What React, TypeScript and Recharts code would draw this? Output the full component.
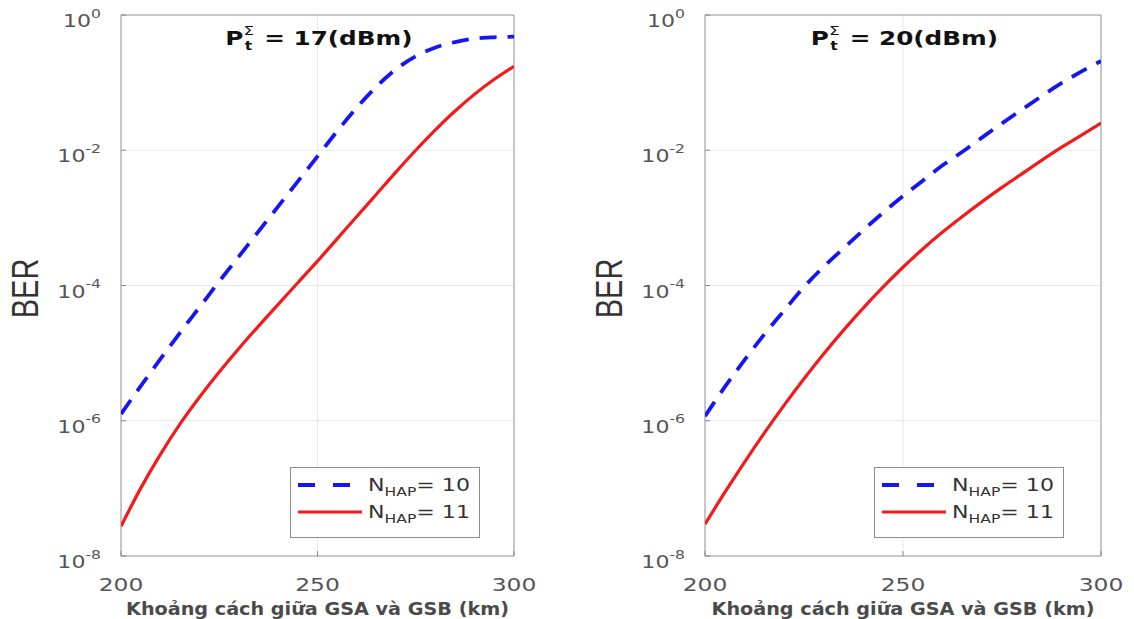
import React from 'react';
import { LineChart, Line, XAxis, YAxis, CartesianGrid, Legend, ReferenceArea } from 'recharts';

// distance between GSA and GSB (km)
const distanceKm = [200, 205, 210, 215, 220, 225, 230, 235, 240, 245, 250, 255, 260, 265, 270, 275, 280, 285, 290, 295, 300];

// BER, total transmit power 17 dBm
const berHap10P17 = [1.26e-6, 3.24e-6, 8.13e-6, 2.0e-5, 4.79e-5, 1.15e-4, 2.69e-4, 6.31e-4, 1.48e-3, 3.47e-3, 8.13e-3, 1.91e-2, 4.27e-2, 8.71e-2, 0.158, 0.245, 0.331, 0.398, 0.447, 0.468, 0.479];
const berHap11P17 = [2.75e-8, 1.0e-7, 3.16e-7, 8.9e-7, 2.24e-6, 5.25e-6, 1.17e-5, 2.51e-5, 5.25e-5, 1.1e-4, 2.29e-4, 4.9e-4, 1.05e-3, 2.24e-3, 4.79e-3, 1.0e-2, 2.0e-2, 3.8e-2, 6.76e-2, 0.112, 0.174];

// BER, total transmit power 20 dBm
const berHap10P20 = [1.17e-6, 3.16e-6, 7.94e-6, 1.9e-5, 4.27e-5, 9.5e-5, 1.9e-4, 3.55e-4, 6.6e-4, 1.2e-3, 2.1e-3, 3.55e-3, 6.0e-3, 9.5e-3, 1.55e-2, 2.5e-2, 3.98e-2, 6.3e-2, 9.8e-2, 0.145, 0.209];
const berHap11P20 = [2.95e-8, 8.7e-8, 2.45e-7, 6.6e-7, 1.7e-6, 4.17e-6, 9.8e-6, 2.19e-5, 4.68e-5, 9.55e-5, 1.86e-4, 3.47e-4, 6.17e-4, 1.05e-3, 1.74e-3, 2.82e-3, 4.47e-3, 7.08e-3, 1.1e-2, 1.66e-2, 2.51e-2];

const hapCounts = ['10', '11'];
const powerLabels = ['17(dBm)', '20(dBm)'];
const xTicks = [200, 250, 300];
const yTicks = [1e-8, 1e-6, 1e-4, 1e-2, 1];

const W = 567;
const H = 619;
const SX = 1.3; // text is drawn a little wide
const BLUE = '#1616f2';
const RED = '#f21a1a';
const TICK_COLOR = '#555';

const seriesStyle: Record<string, { color: string; width: number; dash?: string; legendDash?: string }> = {
  n10: { color: BLUE, width: 3.8, dash: '17 11', legendDash: '17 18' },
  n11: { color: RED, width: 3.2 },
};

const XTick = ({ x, y, payload }: any) => (
  <g>
    <line x1={x} x2={x} y1={y} y2={y - 5} stroke="#888" />
    <g transform={`translate(${x},${y + 35}) scale(${SX},1)`}>
      <text textAnchor="middle" fontSize={18} fill={TICK_COLOR} fontFamily="DejaVu Sans">
        {payload.value}
      </text>
    </g>
  </g>
);

const YTick = ({ x, y, payload }: any) => {
  const exp = Math.round(Math.log10(payload.value));
  return (
    <g>
      <line x1={x} x2={x + 5} y1={y} y2={y} stroke="#888" />
      <g transform={`translate(${x - 20},${y}) scale(${SX},1)`}>
        <text textAnchor="end" y={12} fontSize={17} fill={TICK_COLOR} fontFamily="DejaVu Sans">
          10<tspan fontSize={12} dy={-9.5}>{String(exp)}</tspan>
        </text>
      </g>
    </g>
  );
};

const LegendBox = ({ payload }: any) => (
  <svg width={190} height={71} style={{ display: 'block' }}>
    <rect x={0.5} y={0.5} width={189} height={70} fill="#fff" stroke="#8c8c8c" />
    {(payload || []).map((entry: any, i: number) => {
      const st = seriesStyle[entry.dataKey] || seriesStyle.n11;
      const cy = 18 + i * 27;
      return (
        <g key={entry.dataKey}>
          <line x1={8} x2={72} y1={cy} y2={cy} stroke={st.color} strokeWidth={st.width} strokeDasharray={st.legendDash} />
          <g transform={`translate(78,${cy + 6}) scale(${SX},1)`}>
            <text fontSize={17} fill="#333" fontFamily="DejaVu Sans">
              N<tspan fontSize={12} dy={5}>HAP</tspan>
              <tspan dy={-5}>{`= ${entry.value}`}</tspan>
            </text>
          </g>
        </g>
      );
    })}
  </svg>
);

interface PanelProps {
  left: number;
  plotLeft: number;
  plotRight: number;
  hap10: number[];
  hap11: number[];
  power: string;
}

const Panel = ({ left, plotLeft, plotRight, hap10, hap11, power }: PanelProps) => {
  const data = distanceKm.map((d, i) => ({ d, n10: hap10[i], n11: hap11[i] }));
  const cx = (plotLeft + plotRight) / 2;
  const plotTop = 15;
  const plotBottom = H - 63;

  return (
    <div style={{ position: 'absolute', left, top: 0, width: W, height: H }}>
      <LineChart width={W} height={H} data={data} margin={{ top: plotTop, right: W - plotRight, bottom: 0, left: 0 }}>
        <CartesianGrid stroke="#e8e8e8" />
        <XAxis
          dataKey="d"
          type="number"
          domain={[200, 300]}
          ticks={xTicks}
          interval={0}
          height={63}
          axisLine={false}
          tickLine={false}
          tickSize={0}
          tickMargin={0}
          allowDataOverflow
          tick={(p: any) => <XTick {...p} />}
        />
        <YAxis
          type="number"
          scale="log"
          domain={[1e-8, 1]}
          ticks={yTicks}
          interval={0}
          width={plotLeft}
          axisLine={false}
          tickLine={false}
          tickSize={0}
          tickMargin={0}
          allowDataOverflow
          tick={(p: any) => <YTick {...p} />}
        />
        <ReferenceArea x1={200} x2={300} y1={1e-8} y2={1} fill="none" stroke="#9a9a9a" strokeWidth={1} ifOverflow="visible" />
        <Line
          type="monotone"
          dataKey="n10"
          name={hapCounts[0]}
          stroke={seriesStyle.n10.color}
          strokeWidth={seriesStyle.n10.width}
          strokeDasharray={seriesStyle.n10.dash}
          dot={false}
          activeDot={false}
          isAnimationActive={false}
        />
        <Line
          type="monotone"
          dataKey="n11"
          name={hapCounts[1]}
          stroke={seriesStyle.n11.color}
          strokeWidth={seriesStyle.n11.width}
          dot={false}
          activeDot={false}
          isAnimationActive={false}
        />
        <Legend
          layout="vertical"
          align="center"
          verticalAlign="middle"
          content={(p: any) => <LegendBox {...p} />}
          wrapperStyle={{ left: plotLeft + 169, top: 467, width: 190, height: 71 }}
        />
      </LineChart>

      <svg width={W} height={H} style={{ position: 'absolute', left: 0, top: 0, pointerEvents: 'none' }}>
        {/* title: P with Σ stacked over t */}
        <g transform={`translate(${cx},45) scale(${SX},1)`} fontFamily="DejaVu Sans" fill="#111">
          <text x={-71} fontSize={19} fontWeight="bold">P</text>
          <text x={-57} y={-10} fontSize={13}>Σ</text>
          <text x={-56} y={5} fontSize={12} fontWeight="bold">t</text>
          <text x={-41} fontSize={19} fontWeight="bold">= {power}</text>
        </g>
        <g transform={`translate(${plotLeft - 96},${(plotTop + plotBottom) / 2 + 3}) scale(${SX},1) rotate(-90)`}>
          <text textAnchor="middle" dominantBaseline="central" fontSize={29} fill="#333" fontFamily="Liberation Sans">
            BER
          </text>
        </g>
        <text
          x={cx}
          y={615}
          textAnchor="middle"
          fontSize={17}
          fontWeight="bold"
          fill="#4a4a4a"
          fontFamily="DejaVu Sans"
          textLength={383}
          lengthAdjust="spacingAndGlyphs"
        >
          Khoảng cách giữa GSA và GSB (km)
        </text>
      </svg>
    </div>
  );
};

export default function App() {
  return (
    <div style={{ position: 'absolute', left: 0, top: 0, width: 1134, height: 619, background: '#fff', overflow: 'hidden' }}>
      <Panel left={0} plotLeft={121} plotRight={514} hap10={berHap10P17} hap11={berHap11P17} power={powerLabels[0]} />
      <Panel left={567} plotLeft={138} plotRight={534} hap10={berHap10P20} hap11={berHap11P20} power={powerLabels[1]} />
    </div>
  );
}
